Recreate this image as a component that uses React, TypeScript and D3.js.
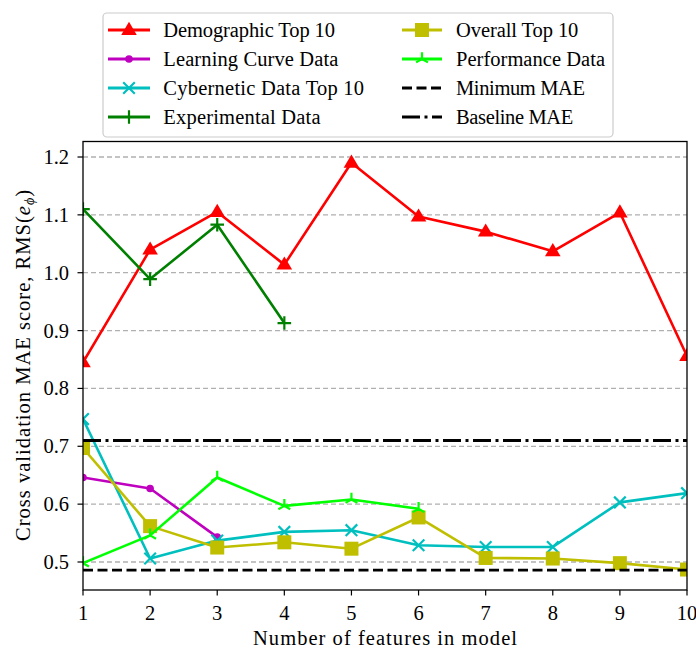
import React from "react";
import * as d3 from "d3";

const features = [1, 2, 3, 4, 5, 6, 7, 8, 9, 10];
const demographic = [0.845, 1.04, 1.105, 1.014, 1.19, 1.097, 1.071, 1.037, 1.104, 0.856];
const learningCurve = [0.646, 0.627, 0.543];
const cybernetic = [0.747, 0.506, 0.537, 0.552, 0.555, 0.529, 0.526, 0.526, 0.603, 0.619];
const experimental = [1.11, 0.989, 1.083, 0.913];
const overall = [0.697, 0.562, 0.525, 0.534, 0.523, 0.577, 0.507, 0.506, 0.498, 0.487];
const performance = [0.498, 0.546, 0.646, 0.597, 0.608, 0.592];
const minimumMAE = 0.486;
const baselineMAE = 0.71;
const yTicks = [0.5, 0.6, 0.7, 0.8, 0.9, 1.0, 1.1, 1.2];

type Marker = "tri" | "circle" | "x" | "plus" | "square" | "triup" | "none";
interface Series { name: string; values: number[]; color: string; marker: Marker; width: number; }

const series: Series[] = [
  { name: "Demographic Top 10", values: demographic, color: "#ff0000", marker: "tri", width: 2.6 },
  { name: "Learning Curve Data", values: learningCurve, color: "#bf00bf", marker: "circle", width: 2.6 },
  { name: "Cybernetic Data Top 10", values: cybernetic, color: "#00bfbf", marker: "x", width: 2.6 },
  { name: "Experimental Data", values: experimental, color: "#008000", marker: "plus", width: 2.6 },
  { name: "Overall Top 10", values: overall, color: "#bfbf00", marker: "square", width: 2.6 },
  { name: "Performance Data", values: performance, color: "#00ff00", marker: "triup", width: 2.6 },
];
const legendTextWidths = [171.7, 175, 200.7, 157.3, 122.3, 149, 129, 117.3];

const W = 696, H = 649;
const L = 83, R = 687, T = 141.5, B = 590;
const FONT = "'Liberation Serif', 'Times New Roman', serif";
const FS = 20.5;

function MarkerShape({ m, color, x, y }: { m: Marker; color: string; x: number; y: number }) {
  switch (m) {
    case "tri": {
      const s = 8.2;
      return <path d={`M${x},${y - s} L${x + s * 0.95},${y + s * 0.6} L${x - s * 0.95},${y + s * 0.6} Z`} fill={color} />;
    }
    case "circle":
      return <circle cx={x} cy={y} r={3.8} fill={color} />;
    case "x": {
      const s = 5.8;
      return <path d={`M${x - s},${y - s} L${x + s},${y + s} M${x - s},${y + s} L${x + s},${y - s}`} stroke={color} strokeWidth={2.2} />;
    }
    case "plus": {
      const s = 6.8;
      return <path d={`M${x - s},${y} L${x + s},${y} M${x},${y - s} L${x},${y + s}`} stroke={color} strokeWidth={2.2} />;
    }
    case "square": {
      const s = 7;
      return <rect x={x - s} y={y - s} width={2 * s} height={2 * s} fill={color} />;
    }
    case "triup": {
      const s = 6.8;
      return <path d={`M${x},${y} L${x},${y - s} M${x},${y} L${x - s * 0.87},${y + s * 0.5} M${x},${y} L${x + s * 0.87},${y + s * 0.5}`} stroke={color} strokeWidth={2.2} />;
    }
    default:
      return null;
  }
}

export default function App() {
  const x = d3.scaleLinear().domain([1, 10]).range([L, R]);
  const y = d3.scaleLinear().domain([0.4516, 1.2268]).range([B, T]);
  const line = d3.line<number>().x((_, i) => x(features[i])).y((v) => y(v));

  const legendRows = [
    ...series.map((s) => ({ name: s.name, color: s.color, marker: s.marker, dash: undefined as string | undefined, width: 2.8 })),
    { name: "Minimum MAE", color: "#000", marker: "none" as Marker, dash: "10,4.5", width: 2.8 },
    { name: "Baseline MAE", color: "#000", marker: "none" as Marker, dash: "18,4.5,3,4.5", width: 2.8 },
  ];
  const rowY = [30, 59, 88, 117];

  return (
    <svg width={W} height={H} style={{ position: "absolute", left: 0, top: 0, background: "#fff" }} fontFamily={FONT}>
      <defs>
        <clipPath id="plotclip">
          <rect x={L} y={T} width={R - L} height={B - T} />
        </clipPath>
      </defs>
      {yTicks.map((t) => (
        <line key={t} x1={L} x2={R} y1={y(t)} y2={y(t)} stroke="#b0b0b0" strokeWidth={1.3} strokeDasharray="5,3" />
      ))}
      <g clipPath="url(#plotclip)">
        {series.map((s) => (
          <g key={s.name}>
            <path d={line(s.values) || ""} fill="none" stroke={s.color} strokeWidth={s.width} strokeLinejoin="round" />
            {s.values.map((v, i) => (
              <MarkerShape key={i} m={s.marker} color={s.color} x={x(features[i])} y={y(v)} />
            ))}
          </g>
        ))}
        <line x1={L} x2={R} y1={y(minimumMAE)} y2={y(minimumMAE)} stroke="#000" strokeWidth={2.8} strokeDasharray="10,4.5" />
        <line x1={L} x2={R} y1={y(baselineMAE)} y2={y(baselineMAE)} stroke="#000" strokeWidth={2.8} strokeDasharray="18,4.5,3,4.5" />
      </g>
      <rect x={L} y={T} width={R - L} height={B - T} fill="none" stroke="#000" strokeWidth={1.3} />
      {yTicks.map((t) => (
        <g key={t}>
          <line x1={L - 5.5} x2={L} y1={y(t)} y2={y(t)} stroke="#000" strokeWidth={1.2} />
          <text x={L - 14} y={y(t) + 7} textAnchor="end" fontSize={FS} fill="#000">{t.toFixed(1)}</text>
        </g>
      ))}
      {features.map((f) => (
        <g key={f}>
          <line x1={x(f)} x2={x(f)} y1={B} y2={B + 5.5} stroke="#000" strokeWidth={1.2} />
          <text x={x(f)} y={620} textAnchor="middle" fontSize={FS} fill="#000">{f}</text>
        </g>
      ))}
      <text x={385} y={645} textAnchor="middle" fontSize={FS} fill="#000" textLength={264} lengthAdjust="spacing">Number of features in model</text>
      <text transform={`translate(30,365.5) rotate(-90)`} textAnchor="middle" fontSize={FS} fill="#000" textLength={351} lengthAdjust="spacing">
        Cross validation MAE score, RMS(<tspan fontStyle="italic">e</tspan>
        <tspan fontStyle="italic" fontSize={14} dy={4}>ϕ</tspan>
        <tspan dy={-4}>)</tspan>
      </text>
      <rect x={103} y={13} width={510} height={124} rx={4} fill="#fff" fillOpacity={0.8} stroke="#cccccc" strokeWidth={1.2} />
      {legendRows.map((r, i) => {
        const col = Math.floor(i / 4);
        const ry = rowY[i % 4];
        const x0 = col === 0 ? 108 : 402;
        const x1 = col === 0 ? 150 : 442;
        const tx = col === 0 ? 163.3 : 456;
        return (
          <g key={r.name}>
            <line x1={x0} x2={x1} y1={ry} y2={ry} stroke={r.color} strokeWidth={r.width} strokeDasharray={r.dash} />
            <MarkerShape m={r.marker} color={r.color} x={(x0 + x1) / 2} y={ry} />
            <text x={tx} y={ry + 7} fontSize={FS} fill="#000" textLength={legendTextWidths[i]} lengthAdjust="spacing">{r.name}</text>
          </g>
        );
      })}
    </svg>
  );
}
